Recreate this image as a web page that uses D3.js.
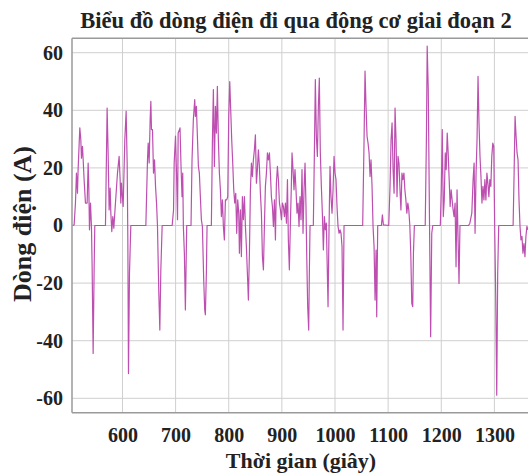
<!DOCTYPE html>
<html>
<head>
<meta charset="utf-8">
<style>
  body { margin: 0; background: #fff; }
  svg text { font-family: "Liberation Serif", "Times New Roman", "DejaVu Serif", serif; font-weight: bold; fill: #222; }
</style>
</head>
<body>
<div id="chart"></div>
<script src="https://d3js.org/d3.v7.min.js"></script>
<script>
  // thời gian (giây) và dòng điện (A), đọc từ đồ thị
  const timeSec = [
    506, 509, 511.5, 513.4, 515.3, 516.5, 519.7, 521.6, 522.8, 524.7, 526, 527.8, 530.3, 533.5, 535.4, 536.6,
    537.9, 539.8, 541.6, 542.9, 544.8, 546.7, 547.9, 568, 571.1, 573, 574.9, 576.8, 578.1, 579.9, 581.8, 583.7,
    586.8, 590.6, 593.7, 595.6, 596.9, 598.1, 601.3, 604.4, 606.9, 608.8, 610.1, 611.3, 613.2, 615.7, 644, 647.1,
    648.4, 650.2, 652.1, 653.4, 654.6, 656.5, 658.4, 660.3, 662.2, 664.1, 665.9, 668.4, 670.3, 672.2, 674.7, 693.5,
    696.1, 697.3, 699.8, 701.7, 703.6, 704.8, 707.4, 708.3, 710.2, 712.1, 713.4, 714.6, 716.5, 718.4, 720.9, 729,
    730.9, 733.4, 736, 737.2, 739.1, 741, 742.9, 744.7, 746.6, 748.5, 750.4, 752.9, 754.8, 756, 757.9, 759.2,
    767.3, 769.2, 771.1, 773, 774.9, 776.8, 778.6, 780.5, 782.4, 784.3, 786.2, 788.1, 789.9, 791.8, 793.7, 796.2,
    798.1, 800, 801.9, 803.7, 805.6, 807.5, 809.4, 811.3, 813.2, 815, 816.9, 818.8, 820.1, 822, 823.8, 825.7,
    827.6, 829.5, 831.4, 833.2, 835.1, 837, 838.9, 840.8, 842.7, 844.5, 846.4, 848.3, 850.2, 852.1, 853.9, 855.8,
    857.7, 859.6, 861.5, 863.4, 865.3, 867.1, 869, 870.9, 872.8, 874.7, 876.6, 878.4, 880.3, 882.2, 884.1, 886,
    887.9, 889.7, 891.6, 893.5, 895.4, 897.3, 899.2, 901, 902.9, 904.8, 906.7, 908.6, 910.5, 912.2, 914.1, 915.9,
    917.8, 919.1, 921, 922.8, 924.7, 926.6, 928.5, 930.4, 932.3, 934.1, 936, 937.9, 939.8, 941.7, 943.6, 945.4,
    946.7, 948.6, 950.5, 951.7, 953, 959.2, 961.1, 963, 964.9, 966.8, 968.7, 970.5, 972.4, 974.3, 976.2, 978.1,
    980, 981.8, 983.7, 985.6, 986.9, 988.8, 990.6, 992.5, 994.4, 996.3, 998.2, 1000, 1001.9, 1003.8, 1005.7, 1007.6,
    1009.5, 1011.3, 1013.2, 1015.1, 1017, 1052.1, 1054.7, 1056.5, 1058.4, 1060.3, 1062.2, 1064.1, 1066, 1067.8, 1069.7, 1071.6,
    1073.5, 1075.4, 1077.3, 1078.5, 1080.4, 1087.3, 1089.2, 1091.1, 1101.1, 1103.6, 1105.5, 1107.4, 1109.3, 1111.2, 1113, 1114.9,
    1116.7, 1118.6, 1120.4, 1122.3, 1124.1, 1126, 1127.8, 1129.7, 1131.5, 1133.4, 1135.2, 1137.1, 1138.9, 1140.8, 1142.6, 1144.5,
    1146.3, 1147.6, 1149.4, 1169.8, 1172, 1173.5, 1175.5, 1178, 1180, 1182.1, 1184, 1198.2, 1200, 1201.9, 1203.8, 1205.6,
    1207.5, 1209.3, 1211.2, 1213, 1214.9, 1216.7, 1218.6, 1220.4, 1222.3, 1224.1, 1226, 1227.8, 1229.7, 1231.5, 1233.4, 1235.2,
    1251.3, 1253.8, 1257.5, 1259.9, 1261.8, 1263.6, 1265.5, 1267.3, 1269.2, 1271, 1272.9, 1274.7, 1276.6, 1278.4, 1280.3, 1282.1,
    1284, 1285.9, 1287.7, 1289.6, 1291.4, 1293.3, 1295.1, 1297, 1298.8, 1300.7, 1302.5, 1304.4, 1306.2, 1308.1, 1335.2, 1337.1,
    1338.9, 1340.8, 1342.6, 1344.5, 1346.3, 1348.2, 1350, 1351.9, 1353.7, 1355.6, 1357.5, 1359.3, 1361.2, 1363
  ];
  const currentA = [
    0, 0.2, 7.8, 18.2, 11.2, 19.4, 33.9, 29.8, 23.4, 27.5, 22.8, 15.9, 7.8, 7.8, 21.7, 13.6,
    -1.5, 7.8, -0.3, -14.3, -44.4, -14.3, 0, 0, 40.8, 25.2, 5.4, 13, 4.3, -2.1, 3.1, -0.9,
    7.8, 18.2, 24, 15.9, 7.8, 14.7, 6.6, 29.8, 39.7, 21.7, -5, -51.4, -16.6, 0, 0, 22.8,
    28.6, 21.7, 36.8, 43.1, 33.3, 33.3, 18.2, 22.8, 13.6, 7.8, -0.3, -23.5, -36.3, -15.4, 0, 0,
    5.4, 21.7, 31, 18.2, 2, 32.1, 33.3, 33.9, 20.5, 10, 18.2, -0.3, -9.6, -29.3, 0, 0,
    22.8, 36.8, 43.7, 37.9, 41.4, 31, 20.5, 18.2, 10, 2, -0.3, -18.9, -29.3, -31, -16.6, 0,
    0, 28.6, 47.2, 20.5, 41.4, 32.1, 48.3, 29.8, 18.2, 12.4, 3.1, 8.9, -0.3, -5, 8.9, 8.9,
    10, 37.9, 50, 40.2, 29.8, 21.7, 12.4, 7.8, 11.2, -2.7, 8.9, 4.3, -9.6, 5.4, -10.8, 10,
    2, 10, -0.3, -7.3, -16.6, -25.9, -9.6, 12.4, 21.7, 17, 22.8, 26.3, 31.5, 14.7, 19.4, 26.3,
    20.5, 11.2, 4.3, -10.8, -15.4, -0.3, 13.6, 18.2, 25.2, 22.8, 25.2, 18.2, 10, 6.6, -0.3, 8.9,
    -5, 14.7, 20.5, 15.9, 7.8, 5.4, 2, 7.8, 6.6, 3.1, 7.8, 0.8, 15.9, -5, -15.4, -0.3,
    13.6, 25.2, 19.4, 12.4, 19.4, 12.4, 4.3, 7.8, -0.3, 10, 2, 19.4, -2.7, 12.4, 21.7, 6.6,
    -9.6, -28.2, -36.3, -16.6, 0, 0, 24, 50.7, 31, 24, 41.4, 51.2, 25.2, 13.6, 4.3, -8.5,
    3.1, -1.5, 0.8, -16.6, -28.2, -0.3, 20.5, 10, 4.3, 12.4, 24, 18.2, 15.9, 6.6, -0.3, -2.7,
    -1.5, -2.7, -7.3, -36.3, 0, 0, 29.8, 53.6, 41.4, 31, 28.6, 25.2, 17, 22.8, 13.6, -0.3,
    -7.3, -25.9, -8.5, -31.7, 0, 0, 3.7, 0.2, 0, 13.6, 29.8, 35.6, 19.4, 11.2, 40.8, 29.8,
    10, 24, 21.7, 12.4, 5.4, 18.2, 15.9, 18.2, 12.4, 8.9, 4.3, 7.8, 5.4, 0, -9.6, -27,
    -28.2, -9.6, 0, 0, 29.8, 62.3, 47.2, -1.5, -38.6, -2.7, 0, 0, 12.4, 33.3, 3.1, 8.9,
    25.2, 19.4, 32.1, 25.2, 15.9, 6.6, 12.4, 8.9, 5.4, 3.1, 7.8, -14.3, 12.4, -3.8, -20.1, 0,
    0, 0.8, 4.3, 15.9, 21.7, -2.7, 18.2, 29.8, 51.8, 35.6, 24, 17, 7.8, 13.6, 8.9, 15.9,
    8.9, 18.2, 14.7, 10, 15.9, 13.6, 24, 28.6, 27.5, -2.7, -24.7, -58.9, -16.6, 0, 0, 18.2,
    37.9, 31, 25.2, 22.8, 8.9, -0.3, -5, -3.8, -9.6, -6.3, -10.8, -3.8, -0.3, -1.5
  ];
  const xTicks = [600, 700, 800, 900, 1000, 1100, 1200, 1300];
  const yTicks = [-60, -40, -20, 0, 20, 40, 60];

  const width = 528;
  const height = 476;
  const plotLeft = 72, plotRight = 530, plotTop = 38.3, plotBottom = 412.7;
  const serif = '"Liberation Serif", "Times New Roman", "DejaVu Serif", serif';

  const data = timeSec.map((t, i) => ({ t: t, v: currentA[i] }));

  const x = d3.scaleLinear().domain([505, 1367]).range([plotLeft, plotRight]);
  const y = d3.scaleLinear().domain([-65, 65]).range([plotBottom, plotTop]);

  const svg = d3
    .select("#chart")
    .append("svg")
    .attr("width", width)
    .attr("height", height);

  svg.append("defs")
    .append("clipPath")
    .attr("id", "plot-clip")
    .append("rect")
    .attr("x", plotLeft)
    .attr("y", plotTop)
    .attr("width", plotRight - plotLeft)
    .attr("height", plotBottom - plotTop);

  // lưới
  const grid = svg.append("g").attr("stroke", "#cfcfcf").attr("stroke-width", 1);
  grid.selectAll("line.gx")
    .data(xTicks)
    .enter()
    .append("line")
    .attr("x1", (d) => x(d))
    .attr("x2", (d) => x(d))
    .attr("y1", plotTop)
    .attr("y2", plotBottom);
  grid.selectAll("line.gy")
    .data(yTicks)
    .enter()
    .append("line")
    .attr("x1", plotLeft)
    .attr("x2", plotRight)
    .attr("y1", (d) => y(d))
    .attr("y2", (d) => y(d));

  // đường dữ liệu
  const line = d3.line()
    .x((d) => x(d.t))
    .y((d) => y(d.v));

  svg.append("path")
    .datum(data)
    .attr("clip-path", "url(#plot-clip)")
    .attr("fill", "none")
    .attr("stroke", "#bd4fb0")
    .attr("stroke-width", 1.2)
    .attr("stroke-linejoin", "round")
    .attr("d", line);

  // trục (nhãn số dùng dấu "-" thường như matlab)
  const fmt = (d) => String(d);
  const xAxis = svg.append("g")
    .attr("transform", `translate(0,${plotBottom})`)
    .call(d3.axisBottom(x).tickValues(xTicks).tickFormat(fmt).tickSize(0).tickPadding(15));
  const yAxis = svg.append("g")
    .attr("transform", `translate(${plotLeft},0)`)
    .call(d3.axisLeft(y).tickValues(yTicks).tickFormat(fmt).tickSize(0).tickPadding(9));

  [xAxis, yAxis].forEach((g) => {
    g.attr("font-family", serif);
    g.select(".domain").remove();
    g.selectAll("text")
      .style("font-family", serif)
      .style("font-weight", "bold")
      .style("font-size", "20px")
      .attr("fill", "#222");
  });

  // khung
  const frame = svg.append("g").attr("stroke", "#9a9a9a").attr("stroke-width", 1.5);
  frame.append("line").attr("x1", plotLeft).attr("x2", plotLeft).attr("y1", plotTop).attr("y2", plotBottom);
  frame.append("line").attr("x1", plotLeft).attr("x2", plotRight).attr("y1", plotBottom).attr("y2", plotBottom);
  frame.append("line").attr("x1", plotLeft).attr("x2", plotRight).attr("y1", plotTop).attr("y2", plotTop);

  // tiêu đề và nhãn
  svg.append("text")
    .attr("x", 296)
    .attr("y", 28)
    .attr("text-anchor", "middle")
    .style("font-family", serif)
    .style("font-size", "22.5px")
    .text("Biểu đồ dòng điện đi qua động cơ giai đoạn 2");

  svg.append("text")
    .attr("x", 301)
    .attr("y", 468)
    .attr("text-anchor", "middle")
    .style("font-family", serif)
    .style("font-size", "22px")
    .text("Thời gian (giây)");

  svg.append("text")
    .attr("transform", `translate(31,224) rotate(-90)`)
    .attr("text-anchor", "middle")
    .style("font-family", serif)
    .style("font-size", "26px")
    .text("Dòng điện (A)");
</script>
</body>
</html>
